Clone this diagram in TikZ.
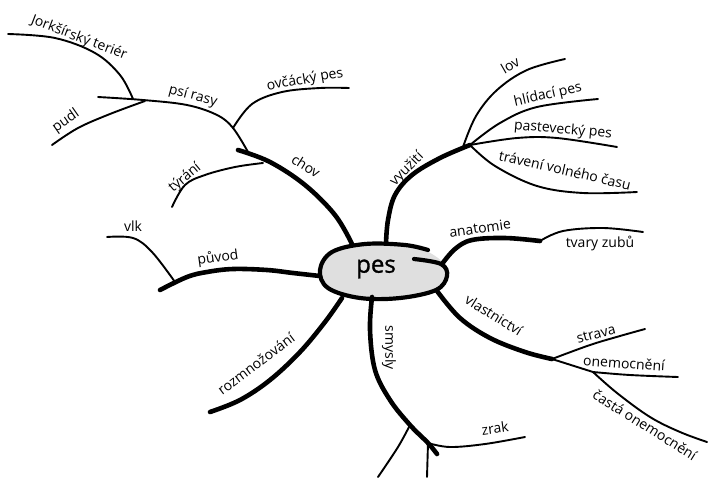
\documentclass[tikz,border=0pt]{standalone}
\usepackage{fontspec}
\setmainfont{Open Sans}
\newfontfamily\pesfont[FakeBold=1.2]{Open Sans}
\begin{document}
\begin{tikzpicture}[x=1pt,y=-1pt,
  thickbr/.style={line width=4.6pt, line cap=round, line join=round},
  thinbr/.style={line width=1.9pt, line cap=round, line join=round},
  lbl/.style={font=\fontsize{14}{16}\selectfont, inner sep=0pt},
  centre/.style={font=\pesfont\fontsize{24}{26}\selectfont, inner sep=0pt}]
\useasboundingbox (0,0) rectangle (708,477);
% junction coordinates
\coordinate (chovEnd) at (238,150);
\coordinate (psiStart) at (248,152);
\coordinate (psiJ) at (233,128);
\coordinate (psiEnd) at (98,97);
\coordinate (jorkJ) at (133,99);
\coordinate (pudlJ) at (145,101);
\coordinate (tyrJ) at (263,163);
\coordinate (puvodEnd) at (160,290);
\coordinate (vlkJ) at (175,282);
\coordinate (rozEnd) at (210,412);
\coordinate (smJ1) at (410,425);
\coordinate (smJ2) at (428,443);
\coordinate (smEnd) at (437,454);
\coordinate (vlEnd) at (552,359);
\coordinate (onJ) at (593,372);
\coordinate (anEnd) at (540,241);
\coordinate (vyJ) at (470,145);
% central shape
\fill[gray!25] plot[smooth cycle, tension=0.7] coordinates {(446,270) (436,289) (400,298) (360,298) (328,288) (320,270) (332,252) (365,244) (405,245) (432,254)};
\draw[line width=4.2pt, line cap=round] plot[smooth, tension=0.6] coordinates {(414,259) (441,264) (447,276) (436,290) (400,298) (360,298) (328,288) (320,270) (332,252) (365,244) (405,245) (428,250)};
\node[centre] (pes) at (376,269) {pes};
% chov
\draw[thickbr] plot[smooth, tension=0.6] coordinates {(352,244) (335,215) (305,185) (270,162) (chovEnd)};
\draw[thinbr] plot[smooth, tension=0.6] coordinates {(psiStart) (psiJ) (217,115) (187,105) (143,100) (psiEnd)};
\draw[thinbr] plot[smooth, tension=0.6] coordinates {(jorkJ) (120,75) (95,53) (55,38) (8,34)};
\draw[thinbr] plot[smooth, tension=0.6] coordinates {(pudlJ) (110,114) (78,128) (52,145)};
\draw[thinbr] plot[smooth, tension=0.6] coordinates {(psiJ) (252,104) (282,92) (320,88) (349,88)};
\draw[thinbr] plot[smooth, tension=0.6] coordinates {(tyrJ) (235,167) (205,175) (185,185) (172,207)};
% puvod
\draw[thickbr] plot[smooth, tension=0.6] coordinates {(320,276) (293,273) (267,270) (233,269) (207,272) (187,277) (puvodEnd)};
\draw[thinbr] plot[smooth, tension=0.6] coordinates {(vlkJ) (152,252) (133,238) (107,237)};
% rozmnozovani
\draw[thickbr] plot[smooth, tension=0.6] coordinates {(342,298) (325,322) (300,352) (270,380) (240,400) (rozEnd)};
% smysly
\draw[thickbr] plot[smooth, tension=0.6] coordinates {(372,297) (370,330) (375,370) (390,400) (smJ1) (smJ2) (smEnd)};
\draw[thinbr] plot[smooth, tension=0.6] coordinates {(smJ1) (398,447) (378,477)};
\draw[thinbr] (smJ2) -- (427,477);
\draw[thinbr] plot[smooth, tension=0.6] coordinates {(smJ2) (450,447) (485,444) (525,437)};
% vlastnictvi
\draw[thickbr] plot[smooth, tension=0.6] coordinates {(437,291) (460,318) (490,338) (525,352) (vlEnd)};
\draw[thinbr] (vlEnd) -- (onJ);
\draw[thinbr] plot[smooth, tension=0.6] coordinates {(vlEnd) (590,345) (620,336) (645,329)};
\draw[thinbr] plot[smooth, tension=0.6] coordinates {(onJ) (630,375) (678,377)};
\draw[thinbr] plot[smooth, tension=0.6] coordinates {(onJ) (617,393) (650,417) (680,432) (707,442)};
% anatomie
\draw[thickbr] plot[smooth, tension=0.6] coordinates {(442,264) (455,249) (472,240) (505,238) (anEnd)};
\draw[thinbr] plot[smooth, tension=0.6] coordinates {(anEnd) (563,231) (603,228) (643,232)};
% vyuziti
\draw[thickbr] plot[smooth, tension=0.6] coordinates {(386,243) (388,220) (395,195) (412,175) (440,158) (vyJ)};
\draw[thinbr] plot[smooth, tension=0.6] coordinates {(463,147) (476,116) (497,90) (527,70) (565,59)};
\draw[thinbr] plot[smooth, tension=0.6] coordinates {(vyJ) (500,123) (537,107) (598,99)};
\draw[thinbr] plot[smooth, tension=0.6] coordinates {(vyJ) (517,138) (557,138) (617,147)};
\draw[thinbr] plot[smooth, tension=0.6] coordinates {(vyJ) (495,166) (537,186) (583,193) (637,192)};
% labels
\node[lbl, rotate=-21] (ljork) at (79,38) {Jorkšírský teriér};
\node[lbl, rotate=-15] (lpsi) at (193,96) {psí rasy};
\node[lbl, rotate=10] (lovc) at (305,80) {ovčácký pes};
\node[lbl, rotate=35] (lpudl) at (66,121) {pudl};
\node[lbl, rotate=-32] (lchov) at (306,166) {chov};
\node[lbl, rotate=40] (ltyr) at (185,178) {týrání};
\node[lbl] (lvlk) at (133,226) {vlk};
\node[lbl, rotate=8] (lpuvod) at (218,258) {původ};
\node[lbl, rotate=37] (lroz) at (256,364) {rozmnožování};
\node[lbl, rotate=-90] (lsmysly) at (389,348) {smysly};
\node[lbl, rotate=8] (lzrak) at (495,428) {zrak};
\node[lbl, rotate=-32] (lvlast) at (494,315) {vlastnictví};
\node[lbl, rotate=15] (lstrava) at (596,334) {strava};
\node[lbl, rotate=-4] (lonem) at (624,363) {onemocnění};
\node[lbl, rotate=-32] (lcasta) at (645,425) {častá onemocnění};
\node[lbl, rotate=8] (lanat) at (480,228) {anatomie};
\node[lbl] (ltvary) at (600,243) {tvary zubů};
\node[lbl, rotate=45] (lvyuz) at (407,169) {využití};
\node[lbl, rotate=30] (llov) at (510,65) {lov};
\node[lbl, rotate=13] (lhlid) at (548,95) {hlídací pes};
\node[lbl, rotate=-5] (lpast) at (563,130) {pastevecký pes};
\node[lbl, rotate=-13] (ltrav) at (565,170) {trávení volného času};
\end{tikzpicture}
\end{document}
